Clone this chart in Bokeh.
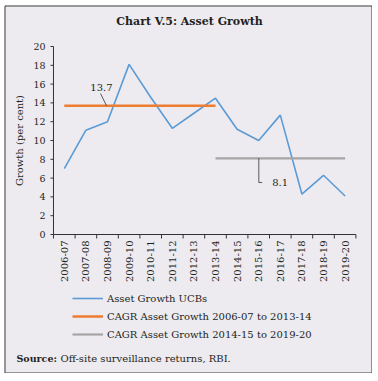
import math
from bokeh.plotting import figure
from bokeh.models import ColumnDataSource, Range1d, Legend, LegendItem, Label
from bokeh.core.properties import value
from bokeh.embed import file_html
from bokeh.resources import INLINE

# ---- data ----
years = ["2006-07", "2007-08", "2008-09", "2009-10", "2010-11", "2011-12", "2012-13",
         "2013-14", "2014-15", "2015-16", "2016-17", "2017-18", "2018-19", "2019-20"]
asset_growth = [7.0, 11.1, 12.0, 18.1, 14.6, 11.3, 12.9, 14.5, 11.2, 10.0, 12.7, 4.3, 6.3, 4.1]
cagr1_span = ["2006-07", "2013-14"]
cagr1_value = 13.7
cagr2_span = ["2013-14", "2019-20"]
cagr2_value = 8.1
y_ticks = [0, 2, 4, 6, 8, 10, 12, 14, 16, 18, 20]

FONT = "DejaVu Serif"
TXT = "#231F20"
BG = "#EDEBF0"
AX = "#333333"

# layout: one category = 1 x-unit (21.6 px), 1 y-unit = 9.4 px; the frame is the whole canvas
PX_X, PX_Y = 21.6, 9.4
p = figure(x_range=Range1d(-2.4537, 14.7685), y_range=Range1d(-14.787, 24.894),
           width=372, height=373, output_backend="svg", toolbar_location=None,
           x_axis_location=None, y_axis_location=None,
           min_border_left=0, min_border_right=0, min_border_top=0, min_border_bottom=0,
           background_fill_color="white", border_fill_color="white")
p.outline_line_color = None
p.xgrid.visible = False
p.ygrid.visible = False

# chart panel box
p.quad(left=[-2.2454], right=[14.745], top=[24.309], bottom=[-14.734],
       fill_color=BG, line_color="#3a3a3a", line_width=1)

n = len(years)
xc = [i + 0.5 for i in range(n)]          # category centres
edges = list(range(n + 1))                # category boundaries


def pos(cat):
    return years.index(cat) + 0.5


# ---- y axis ----
p.segment(x0=[0], y0=[y_ticks[0]], x1=[0], y1=[y_ticks[-1]], line_color=AX, line_width=1)
p.segment(x0=[0] * len(y_ticks), y0=y_ticks, x1=[-3 / PX_X] * len(y_ticks), y1=y_ticks,
          line_color=AX, line_width=1)
p.text(x=[-8 / PX_X] * len(y_ticks), y=y_ticks, text=[str(t) for t in y_ticks],
       text_align="right", text_baseline="middle", text_font=value(FONT),
       text_font_size="9.5px", text_color=TXT)
p.text(x=[-33.5 / PX_X], y=[(y_ticks[0] + y_ticks[-1]) / 2], text=["Growth (per cent)"],
       angle=math.pi / 2, text_align="center", text_baseline="middle",
       text_font=value(FONT), text_font_size="10px", text_color=TXT)

# ---- x axis ----
p.segment(x0=[edges[0]], y0=[0], x1=[edges[-1]], y1=[0], line_color=AX, line_width=1)
p.segment(x0=edges, y0=[0] * len(edges), x1=edges, y1=[-4 / PX_Y] * len(edges),
          line_color=AX, line_width=1)
p.text(x=xc, y=[-6 / PX_Y] * n, text=years, angle=math.pi / 2,
       text_align="right", text_baseline="middle", text_font=value(FONT),
       text_font_size="10px", text_color=TXT)

# ---- series ----
src = ColumnDataSource(dict(x=xc, y=asset_growth))
r_line = p.line("x", "y", source=src, line_color="#5B9BD5", line_width=1.6)
r_c1 = p.line(x=[pos(c) for c in cagr1_span], y=[cagr1_value, cagr1_value],
              line_color="#ED7D31", line_width=2.5)
r_c2 = p.line(x=[pos(c) for c in cagr2_span], y=[cagr2_value, cagr2_value],
              line_color="#A5A5A5", line_width=2.2)

# data labels with leader lines
p.line(x=[2.176, 2.454], y=[15.0, cagr1_value], line_color=AX, line_width=0.8)
p.add_layout(Label(x=2.22, y=15.64, text=f"{cagr1_value}", text_align="center",
                   text_baseline="alphabetic", text_font=FONT, text_font_size="10px",
                   text_color=TXT))
p.line(x=[9.505, 9.505, 9.662], y=[cagr2_value, 5.53, 5.53], line_color=AX, line_width=0.8)
p.add_layout(Label(x=10.125, y=5.53, text=f"{cagr2_value}", text_align="left",
                   text_baseline="middle", text_font=FONT, text_font_size="10px",
                   text_color=TXT))

# ---- title ----
p.add_layout(Label(x=6.296, y=22.66, text="Chart V.5: Asset Growth", text_align="center",
                   text_baseline="middle", text_font=FONT, text_font_size="11px",
                   text_font_style="bold", text_color=TXT))

# ---- legend ----
legend = Legend(items=[LegendItem(label="Asset Growth UCBs", renderers=[r_line]),
                       LegendItem(label="CAGR Asset Growth 2006-07 to 2013-14", renderers=[r_c1]),
                       LegendItem(label="CAGR Asset Growth 2014-15 to 2019-20", renderers=[r_c2])],
                location=(72, 32))
legend.background_fill_alpha = 0
legend.border_line_color = None
legend.padding = 0
legend.margin = 0
legend.spacing = 4
legend.glyph_width = 31
legend.glyph_height = 14
legend.label_height = 14
legend.label_standoff = 4
legend.label_text_font = FONT
legend.label_text_font_size = "10px"
legend.label_text_color = TXT
p.add_layout(legend, "center")

# ---- source note ----
p.add_layout(Label(x=-1.713, y=-13.24, text="Source:", text_baseline="middle",
                   text_font=FONT, text_font_size="9.5px", text_font_style="bold",
                   text_color=TXT))
p.add_layout(Label(x=0.324, y=-13.24, text="Off-site surveillance returns, RBI.",
                   text_baseline="middle", text_font=FONT, text_font_size="10px",
                   text_color=TXT))

open("out.html", "w").write(file_html(p, INLINE))
